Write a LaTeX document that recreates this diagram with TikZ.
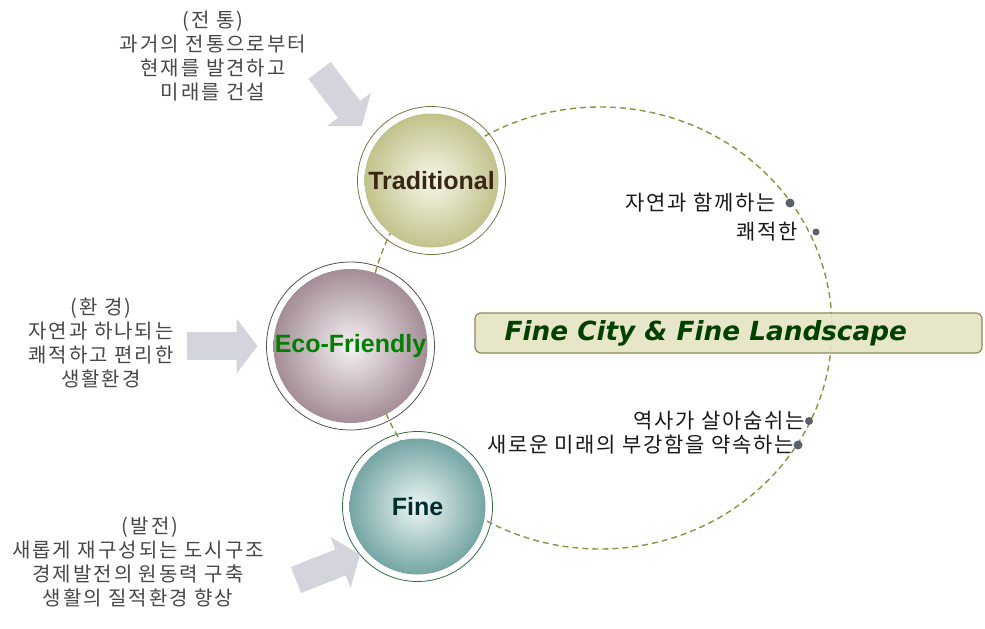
\documentclass[tikz,border=0pt]{standalone}
\usepackage{fontspec}
\newfontfamily\krfont[LetterSpace=10]{Noto Sans CJK KR}
\newfontfamily\krrfont[LetterSpace=8]{Noto Sans CJK KR}
\newfontfamily\labfont{Liberation Sans}
\newfontfamily\titlefont{DejaVu Sans}
\usetikzlibrary{arrows.meta, positioning}
\definecolor{tradin}{HTML}{F7F7EA}
\definecolor{tradout}{HTML}{C2C28C}
\definecolor{tradline}{HTML}{7A7442}
\definecolor{ecoin}{HTML}{F6F1F4}
\definecolor{ecoout}{HTML}{A48D97}
\definecolor{ecoline}{HTML}{5C4C52}
\definecolor{finein}{HTML}{EEF6F6}
\definecolor{fineout}{HTML}{74A5A4}
\definecolor{fineline}{HTML}{2E6E40}
\definecolor{loopcol}{HTML}{8A9440}
\definecolor{bannerfill}{HTML}{E6E3C3}
\definecolor{bannerline}{HTML}{8C8C5A}
\definecolor{arrowcol}{HTML}{D4D4DD}
\definecolor{dotcol}{HTML}{5B606B}

\begin{document}
\begin{tikzpicture}[x=1pt, y=-1pt,
	ring/.style={circle, draw, fill=white, line width=0.8pt, inner sep=0pt, outer sep=0pt},
	ball/.style={circle, inner sep=0pt, outer sep=0pt, font=\labfont\bfseries\fontsize{25}{25}\selectfont},
	dotnode/.style={circle, fill=dotcol, inner sep=0pt, outer sep=0pt},
	rtxt/.style={inner sep=0pt, outer sep=0pt, text=black!90, font=\krrfont\fontsize{21}{24}\selectfont},
	ltxt/.style={align=center, inner sep=0pt, text=black!72, font=\krfont\fontsize{20}{24}\selectfont},
	bigarrow/.style={draw=arrowcol, line width=28pt, -{Triangle[length=21pt, width=54pt]}}]
	\useasboundingbox (0,0) rectangle (985,629);

	% Rings behind the loop:
	\node[ring, draw=tradline, minimum size=148pt] (trad) at (431.5,180.5) {};
	\node[ring, draw=ecoline, minimum size=168pt] (eco) at (350.5,346) {};
	\node[ring, draw=fineline, minimum size=150pt] (fine) at (417.5,506.5) {};

	% Dashed loop:
	\draw[loopcol, line width=1.4pt, dash pattern=on 6pt off 4pt] (600,328) ellipse [x radius=232pt, y radius=221pt];

	% Shaded balls and labels:
	\node[ball, minimum size=134pt, inner color=tradin, outer color=tradout, text=brown!30!black] (tradball) at (trad) {Traditional};
	\node[ball, minimum size=154pt, inner color=ecoin, outer color=ecoout, text=green!50!black] (ecoball) at (eco) {Eco-Friendly};
	\node[ball, minimum size=136pt, inner color=finein, outer color=fineout, text=teal!35!black] (fineball) at (fine) {Fine};

	% Banner:
	\node[draw=bannerline, fill=bannerfill, fill opacity=0.9, line width=1.2pt, rounded corners=6pt,
		minimum width=507pt, minimum height=40pt] (banner) at (728.5,333) {};
	\node[anchor=west, inner sep=0pt, text=green!25!black,
		font=\titlefont\bfseries\itshape\fontsize{26.3}{27}\selectfont] (title) at ([xshift=30pt]banner.west) {Fine City \& Fine Landscape};

	% Dots and their texts:
	\node[dotnode, minimum size=9pt] (d1) at (790,203) {};
	\node[dotnode, minimum size=7pt] (d2) at (816,232) {};
	\node[dotnode, minimum size=8pt] (d3) at (809,421) {};
	\node[dotnode, minimum size=9pt] (d4) at (798,445) {};
	\node[rtxt, left=10pt of d1] (t1) {자연과 함께하는};
	\node[rtxt, left=15pt of d2] (t2) {쾌적한};
	\node[rtxt, left=0pt of d3] (t3) {역사가 살아숨쉬는};
	\node[rtxt, left=0pt of d4] (t4) {새로운 미래의 부강함을 약속하는};

	% Left texts:
	\node[ltxt] (past) at (213,56) {(전 통)\\과거의 전통으로부터\\현재를 발견하고\\미래를 건설};
	\node[ltxt] (env) at (101,343) {(환 경)\\자연과 하나되는\\쾌적하고 편리한\\생활환경};
	\node[ltxt] (grow) at (138,562) {\hspace*{24pt}(발전)\\새롭게 재구성되는 도시구조\\경제발전의 원동력 구축\\생활의 질적환경 향상};

	% Block arrows:
	\coordinate (a1) at (319.5,70.5);
	\coordinate (a2) at (187,346);
	\coordinate (a3) at (296,580);
	\draw[bigarrow, shorten >=15pt] (a1) -- (trad.145);
	\draw[bigarrow, shorten >=9pt] (a2) -- (eco);
	\draw[bigarrow] (a3) -- (fine.220);
\end{tikzpicture}
\end{document}
